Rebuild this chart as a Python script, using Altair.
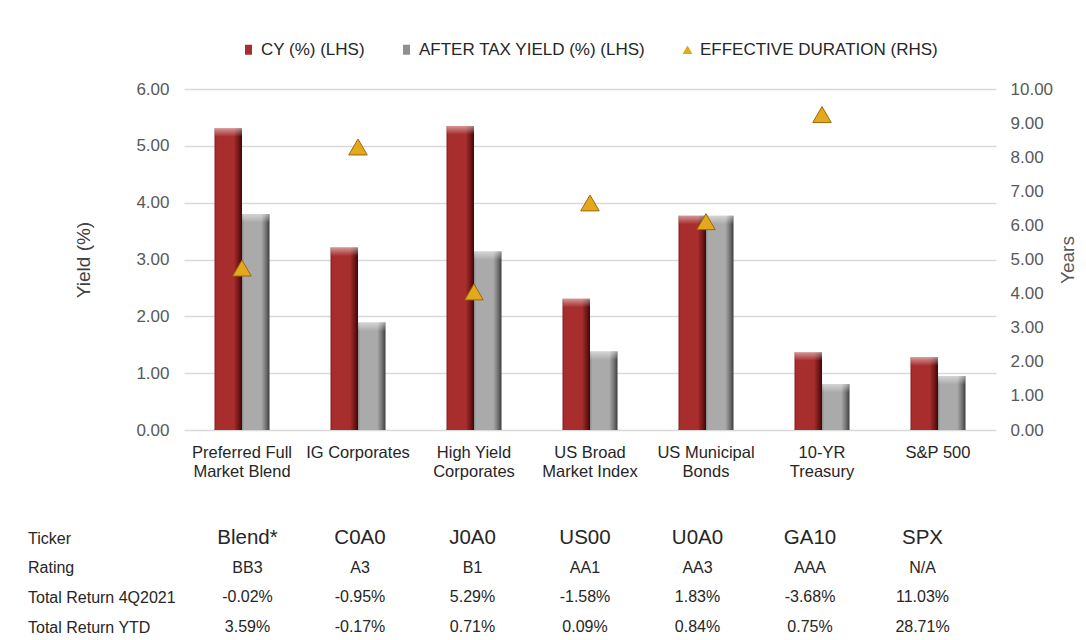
import altair as alt
import pandas as pd

categories = ["Preferred Full|Market Blend", "IG Corporates", "High Yield|Corporates",
              "US Broad|Market Index", "US Municipal|Bonds", "10-YR|Treasury", "S&P 500"]
series_names = ["CY (%) (LHS)", "AFTER TAX YIELD (%) (LHS)", "EFFECTIVE DURATION (RHS)"]
cy = [5.31, 3.21, 5.35, 2.31, 3.77, 1.37, 1.28]
aty = [3.80, 1.89, 3.14, 1.38, 3.77, 0.81, 0.95]
duration = [4.75, 8.30, 4.05, 6.66, 6.11, 9.25, None]

row_labels = ["Ticker", "Rating", "Total Return 4Q2021", "Total Return YTD"]
tickers = ["Blend*", "C0A0", "J0A0", "US00", "U0A0", "GA10", "SPX"]
ratings = ["BB3", "A3", "B1", "AA1", "AA3", "AAA", "N/A"]
tr_4q = ["-0.02%", "-0.95%", "5.29%", "-1.58%", "1.83%", "-3.68%", "11.03%"]
tr_ytd = ["3.59%", "-0.17%", "0.71%", "0.09%", "0.84%", "0.75%", "28.71%"]

bars_df = pd.DataFrame(
    [{"category": c, "series": series_names[0], "value": v} for c, v in zip(categories, cy)]
    + [{"category": c, "series": series_names[1], "value": v} for c, v in zip(categories, aty)]
)
dur_df = pd.DataFrame(
    [{"category": c, "series": series_names[2], "duration": d}
     for c, d in zip(categories, duration) if d is not None]
)
table_rows = [tickers, ratings, tr_4q, tr_ytd]
table_df = pd.DataFrame(
    [{"col": i, "row": r, "text": t}
     for r, vals in zip(row_labels, table_rows) for i, t in enumerate(vals)]
)

def hgrad(cols):
    offs = [0, 0.08, 0.7, 0.88, 1]
    return alt.Gradient(gradient="linear", x1=0, x2=1, y1=0, y2=0,
                        stops=[alt.GradientStop(offset=o, color=c) for o, c in zip(offs, cols)])

red_grad = hgrad(["#8a1d1d", "#a82e2e", "#a82e2e", "#701616", "#3a0808"])
grey_grad = hgrad(["#8a8a8a", "#aaaaaa", "#aaaaaa", "#707070", "#3c3c3c"])
cap_grad = alt.Gradient(gradient="linear", x1=0, x2=0, y1=0, y2=1,
                        stops=[alt.GradientStop(offset=0, color="rgba(255,255,255,0.5)"),
                               alt.GradientStop(offset=1, color="rgba(255,255,255,0)")])

W, H = 812, 341
xscale = alt.Scale(domain=categories, paddingInner=0, paddingOuter=0)

x_enc = alt.X("category:N", sort=categories, scale=xscale,
              axis=alt.Axis(title=None, labelExpr="split(datum.label, '|')", labelAngle=0,
                            labelFontSize=16.5, labelColor="#262626", labelPadding=14,
                            labelLineHeight=19.5, ticks=False, domain=False, labelOverlap=False,
                            labelLimit=200))
offset_domain = ["_left", series_names[0], series_names[1], "_right"]
xoff = alt.XOffset("series:N", scale=alt.Scale(domain=offset_domain, paddingInner=0, paddingOuter=0.109))
y_left = alt.Y("value:Q", scale=alt.Scale(domain=[0, 6]),
               axis=alt.Axis(title="Yield (%)", values=[0, 1, 2, 3, 4, 5, 6], format=".2f",
                             labelFontSize=17, labelColor="#595959", labelPadding=15,
                             ticks=False, domain=False, grid=True, gridColor="#d9d9d9",
                             gridWidth=1.5, titleFontSize=19, titleColor="#404040",
                             titleFontWeight="normal", titlePadding=42))

base = alt.Chart(bars_df).encode(x=x_enc, xOffset=xoff, y=y_left)
cy_bar = base.transform_filter(alt.datum.series == series_names[0]).mark_bar(color=red_grad)
aty_bar = base.transform_filter(alt.datum.series == series_names[1]).mark_bar(color=grey_grad)
caps = base.transform_calculate(cap="datum.value - 0.15").mark_bar(color=cap_grad).encode(y2="cap:Q")

legend = alt.Legend(title=None, orient="none", legendX=56, legendY=-48, direction="horizontal",
                    columns=3, labelFontSize=17, labelColor="#262626", symbolSize=100,
                    columnPadding=33, labelOffset=4, symbolStrokeWidth=0, padding=0,
                    labelLimit=400)
tri = alt.Chart(dur_df).mark_point(filled=True, size=340, stroke="#9a6a08", strokeWidth=1,
                                   opacity=1).encode(
    x=alt.X("category:N", sort=categories, scale=xscale),
    y=alt.Y("duration:Q", scale=alt.Scale(domain=[0, 10]),
            axis=alt.Axis(orient="right", title="Years", values=list(range(11)), format=".2f",
                          labelFontSize=17, labelColor="#595959", labelPadding=14, ticks=False,
                          domain=False, grid=False, titleFontSize=19, titleColor="#595959",
                          titleFontWeight="normal", titleAngle=270, titleBaseline="top",
                          titlePadding=6)),
    color=alt.Color("series:N", scale=alt.Scale(domain=series_names,
                                                range=["#a82e2e", "#8f8f8f", "#e3a81c"]),
                    legend=legend),
    shape=alt.Shape("series:N", scale=alt.Scale(domain=series_names,
                                                range=["M-0.7,-1H0.7V1H-0.7Z", "M-0.7,-1H0.7V1H-0.7Z",
                                                       "triangle-up"]),
                    legend=legend),
)

top = alt.layer(alt.layer(cy_bar, aty_bar, caps), tri).resolve_scale(y="independent").properties(
    width=W, height=H)

# table columns sit slightly tighter than the bar groups (step ~112.5 px, first at ~63.5 px)
table_x = alt.Scale(domain=[-0.5644, 6.6533], nice=False, zero=False)
table = alt.Chart(table_df).mark_text(color="#262626").encode(
    x=alt.X("col:Q", scale=table_x, axis=None),
    y=alt.Y("row:O", sort=row_labels, scale=alt.Scale(type="point", domain=row_labels, padding=0),
            axis=alt.Axis(title=None, labelAlign="left", labelPadding=156.5, labelFontSize=16,
                          labelColor="#262626", ticks=False, domain=False, grid=False,
                          labelLimit=300)),
    text="text:N",
    size=alt.Size("row:N", sort=row_labels,
                  scale=alt.Scale(type="ordinal", domain=row_labels, range=[20.5, 16, 16, 16]),
                  legend=None),
).properties(width=W, height=89)

chart = alt.vconcat(top, table, spacing=48).resolve_scale(
    x="independent", color="independent", shape="independent", size="independent"
).resolve_legend(color="independent", shape="independent", size="independent").properties(
    padding={"left": 19, "top": 33, "right": 0, "bottom": 0}
).configure(font="Liberation Sans", background="white").configure_view(stroke=None)

chart.save("out.html", embed_options={"renderer": "svg", "actions": False})
